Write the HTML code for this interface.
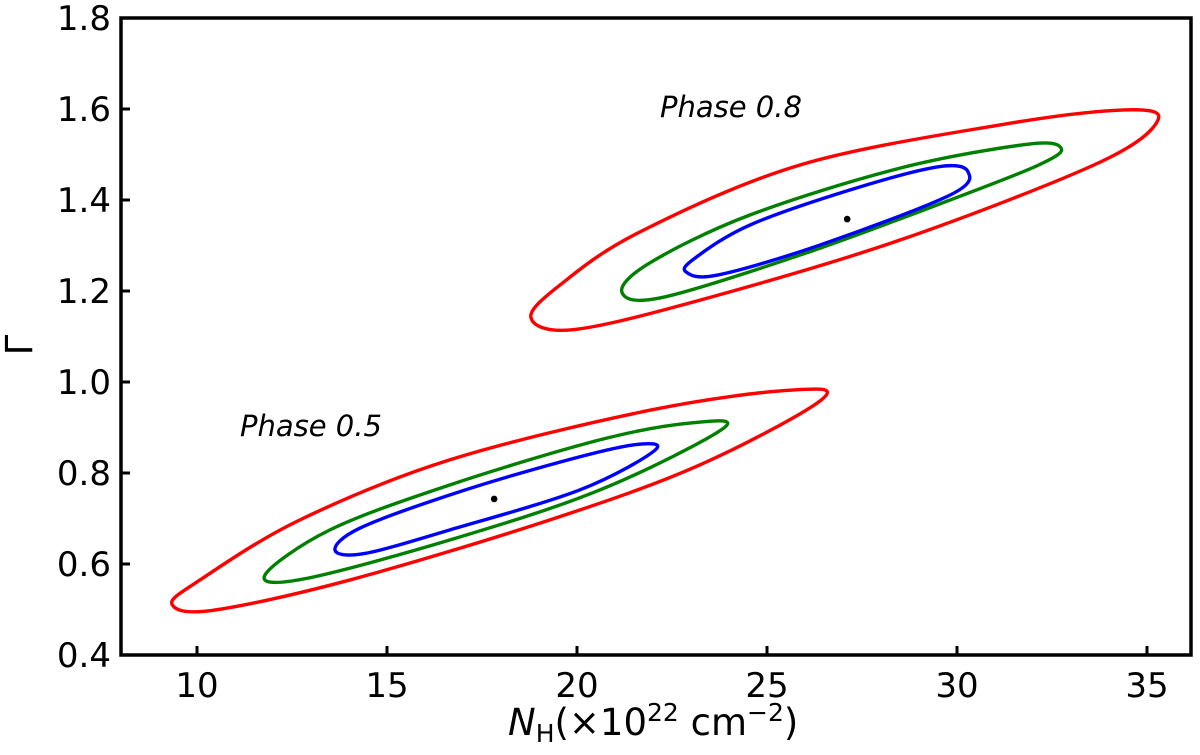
<!DOCTYPE html>
<html><head><meta charset="utf-8"><style>
body{margin:0;background:#fff;position:relative}
svg text{font-family:"DejaVu Sans","Liberation Sans",sans-serif;fill:#000}
</style></head><body>
<svg id="chart" width="1200" height="750" viewBox="0 0 1200 750">
<g id="plot"></g>
</svg>
<script>
const xTicks=[10,15,20,25,30,35];
const yTicks=[0.4,0.6,0.8,1.0,1.2,1.4,1.6,1.8];
const yTickLabels=["0.4","0.6","0.8","1.0","1.2","1.4","1.6","1.8"];
const red08=[[18.79,1.141],[19.9,1.115],[23.24,1.18],[28.5,1.312],[33.76,1.483],[35.29,1.576],[34.4,1.598],[31.13,1.565],[25.87,1.477],[21.66,1.33],[19.55,1.213]];
const green08=[[21.18,1.198],[22.2,1.185],[25.87,1.279],[29.82,1.4],[32.1,1.475],[32.75,1.512],[31.9,1.523],[28.5,1.47],[24.55,1.367],[21.92,1.262]];
const blue08=[[22.87,1.242],[23.7,1.235],[26.39,1.301],[29.82,1.411],[30.29,1.462],[29.5,1.473],[27.18,1.422],[24.55,1.345],[23.1,1.272]];
const red05=[[9.34,0.512],[10.4,0.498],[14.03,0.565],[19.29,0.697],[23.24,0.818],[26.45,0.962],[25.6,0.982],[21.92,0.938],[16.66,0.829],[12.71,0.697],[10.08,0.565]];
const green05=[[11.79,0.576],[12.8,0.567],[16.66,0.653],[20.61,0.763],[23.85,0.898],[23.0,0.91],[20.61,0.873],[16.66,0.774],[13.5,0.675]];
const blue05=[[13.63,0.631],[14.4,0.623],[16.66,0.675],[20.08,0.763],[22.05,0.85],[21.5,0.862],[19.55,0.824],[16.66,0.752],[14.29,0.679]];
const bestFit=[[27.11,1.358],[17.82,0.743]];

const L=121,R=1191,T=18,B=655,XMIN=8,XMAX=8+(R-L)/38,YMIN=0.4,YMAX=1.8;
const sx=v=>L+(v-XMIN)/(XMAX-XMIN)*(R-L);
const sy=v=>B-(v-YMIN)/(YMAX-YMIN)*(B-T);
const NS="http://www.w3.org/2000/svg";
const g=document.getElementById('plot');
function mk(t,a,parent){const e=document.createElementNS(NS,t);for(const k in a)e.setAttribute(k,a[k]);(parent||g).appendChild(e);return e;}
function closedPath(pts){
  const p=pts.map(d=>[sx(d[0]),sy(d[1])]);const n=p.length;let s=`M${p[0][0]},${p[0][1]}`;
  for(let i=0;i<n;i++){const p0=p[(i-1+n)%n],p1=p[i],p2=p[(i+1)%n],p3=p[(i+2)%n];
    const c1=[p1[0]+(p2[0]-p0[0])/6,p1[1]+(p2[1]-p0[1])/6],c2=[p2[0]-(p3[0]-p1[0])/6,p2[1]-(p3[1]-p1[1])/6];
    s+=`C${c1[0]},${c1[1]} ${c2[0]},${c2[1]} ${p2[0]},${p2[1]}`;}
  return s+'Z';}
const series=[[red08,'#ff0000','contour-99-phase-0.8'],[green08,'#008000','contour-90-phase-0.8'],[blue08,'#0000ff','contour-68-phase-0.8'],
[red05,'#ff0000','contour-99-phase-0.5'],[green05,'#008000','contour-90-phase-0.5'],[blue05,'#0000ff','contour-68-phase-0.5']];
series.forEach(s=>{const e=mk('path',{d:closedPath(s[0]),fill:'none',stroke:s[1],'stroke-width':3.4,'stroke-linejoin':'round'});

});
bestFit.forEach((d,i)=>{const e=mk('circle',{cx:sx(d[0]),cy:sy(d[1]),r:3.3,fill:'#000'});

});
const fr=mk('rect',{x:L,y:T,width:R-L,height:B-T,fill:'none',stroke:'#000','stroke-width':3.5});


xTicks.forEach(v=>{mk('line',{x1:sx(v),x2:sx(v),y1:B,y2:B-9,stroke:'#000','stroke-width':3});
const t=mk('text',{x:sx(v),y:B+42,'text-anchor':'middle','font-size':34});t.textContent=v;

});
yTicks.forEach((v,i)=>{mk('line',{x1:L,x2:L+9,y1:sy(v),y2:sy(v),stroke:'#000','stroke-width':3});
const t=mk('text',{x:L-10,y:sy(v)+12,'text-anchor':'end','font-size':34});t.textContent=yTickLabels[i];

});
</script>
<svg style="position:absolute;left:0;top:0" width="1200" height="750">
<text x="660" y="117" font-size="29" font-style="italic">Phase 0.8</text>
<text x="240" y="436" font-size="29" font-style="italic">Phase 0.5</text>
<text x="508" y="735" font-size="37"><tspan font-style="italic">N</tspan><tspan font-size="25" dy="7">H</tspan><tspan dy="-7">(×10</tspan><tspan font-size="25" dy="-14">22</tspan><tspan dy="14"> cm</tspan><tspan font-size="25" dy="-14">−2</tspan><tspan dy="14">)</tspan></text>
<text x="32" y="345" font-size="37" text-anchor="middle" transform="rotate(-90 32 345)">Γ</text>
</svg>
</body></html>
